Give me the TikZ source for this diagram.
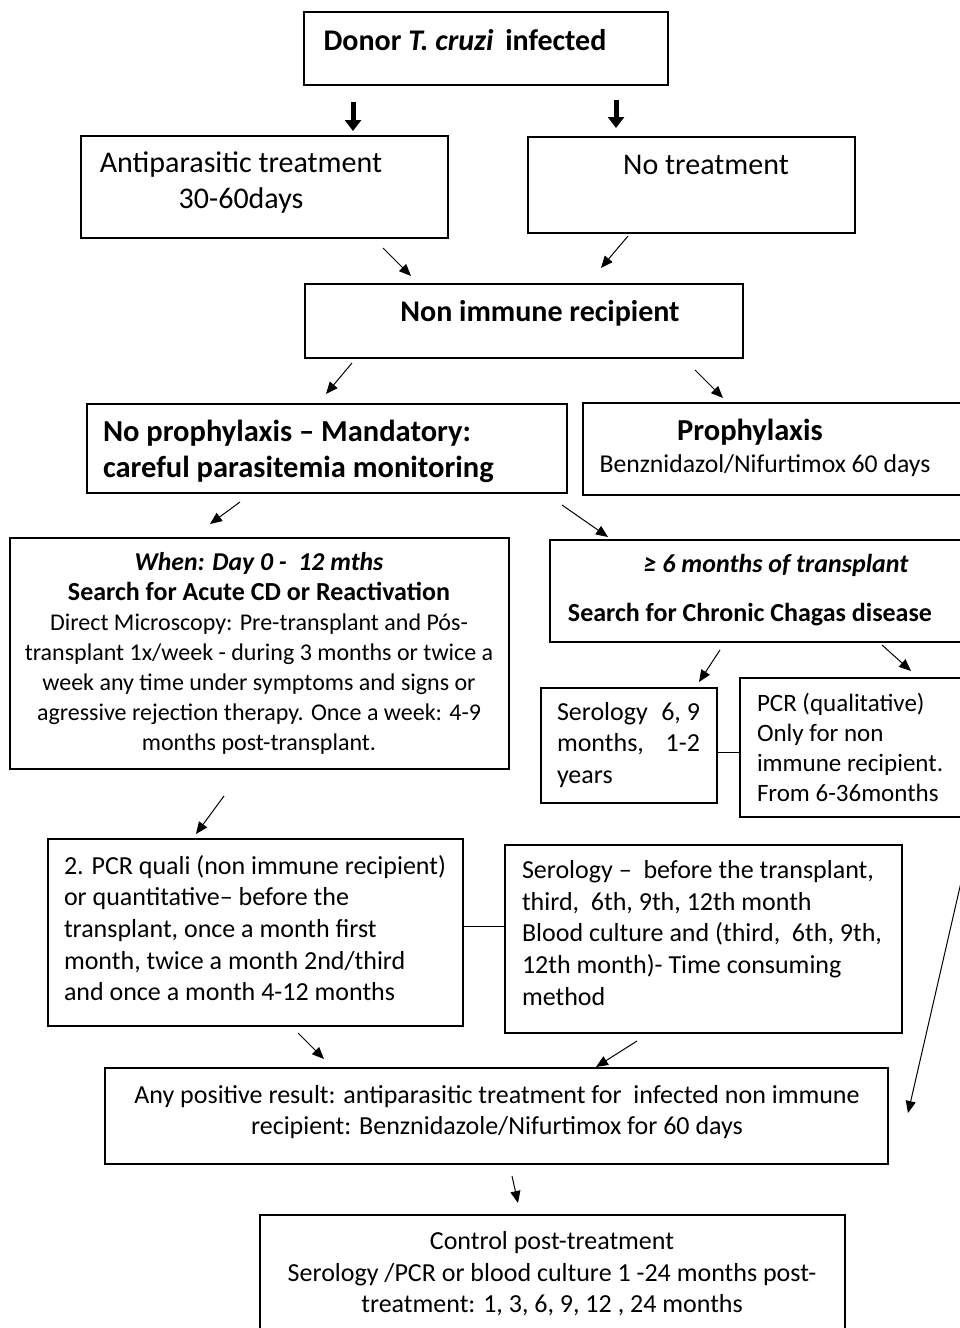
\documentclass[tikz,border=0pt]{standalone}
\usepackage{fontspec}
\setmainfont{Carlito}
\usetikzlibrary{arrows.meta}
\newcommand{\bx}[5]{\node[box, minimum width={(#4)-(#2)}, minimum height={(#5)-(#3)}] (#1) at ({((#2)+(#4))/2},{((#3)+(#5))/2}) {};}
\begin{document}
\begin{tikzpicture}[x=1pt,y=-1pt,
  box/.style={draw, line width=1.6pt, inner sep=0pt, outer sep=0pt},
  txt/.style={inner sep=0pt, outer sep=0pt},
  arr/.style={-{Triangle[length=12pt,width=10pt]}, line width=1pt},
  bigarr/.style={-{Triangle[length=11pt,width=16pt]}, line width=5pt},
  fA/.style={font=\fontsize{30}{36}\selectfont},
  fB/.style={font=\fontsize{26}{31.6}\selectfont},
  fC/.style={font=\fontsize{24}{30}\selectfont},
  fD/.style={font=\fontsize{25}{30}\selectfont}]
\useasboundingbox (0,0) rectangle (960,1328);
\fill[white] (0,0) rectangle (960,1328);
% boxes
\bx{donor}{304}{12}{668}{85}
\bx{anti}{81}{136}{448}{238}
\bx{notr}{528}{137}{855}{233}
\bx{nonimm}{305}{284}{743}{358}
\bx{noproph}{87}{404}{567}{493}
\bx{proph}{583}{403}{975}{495}
\bx{when}{10}{538}{509}{769}
\bx{chronic}{550}{540}{975}{642}
\bx{sero1}{541}{688}{717}{803}
\bx{pcrq}{740}{678}{975}{817}
\bx{pcr2}{48}{839}{463}{1026}
\bx{sero2}{505}{845}{902}{1033}
\bx{anypos}{105}{1068}{888}{1164}
\bx{control}{260}{1215}{845}{1340}
% texts
\node[txt, font=\bfseries\fontsize{30}{36}\selectfont] at (465,40) {Donor \textit{T. cruzi}\, infected};
\node[txt, fA, align=center] at (241,183) {Antiparasitic treatment\\30-60days};
\node[txt, fA] at (706,165) {No treatment};
\node[txt, font=\bfseries\fontsize{30}{36}\selectfont] at (540,313) {Non immune recipient};
\node[txt, anchor=west, align=left, font=\bfseries\fontsize{30.5}{36}\selectfont] at (103,451) {No prophylaxis -- Mandatory:\\careful parasitemia monitoring};
\node[txt, font=\bfseries\fontsize{30.5}{32}\selectfont] at (750,432) {Prophylaxis};
\node[txt, font=\fontsize{25.7}{29}\selectfont] at (765,466) {Benznidazol/Nifurtimox 60 days};
\node[txt, fC, align=center] at (259,653) {{\fontsize{25.7}{30}\selectfont\textbf{\textit{When: Day 0 -\ \ 12 mths}}}\\{\fontsize{26}{30}\selectfont\textbf{Search for Acute CD or Reactivation}}\\Direct Microscopy: Pre-transplant and Pós-\\transplant 1x/week - during 3 months or twice a\\week any time under symptoms and signs or\\agressive rejection therapy. Once a week: 4-9\\months post-transplant.};
\node[txt, font=\bfseries\itshape\fontsize{26}{30}\selectfont] at (776,565) {≥ 6 months of transplant};
\node[txt, font=\bfseries\fontsize{26}{30}\selectfont] at (750,615) {Search for Chronic Chagas disease};
\node[txt, fB, anchor=west, align=left] at (557,745) {\hbox to 143pt{Serology\hfill 6,\ 9}\\\hbox to 143pt{months,\hfill 1-2}\\years};
\node[txt, fD, anchor=west, align=left] at (757,747) {PCR (qualitative)\\Only for non\\immune recipient.\\From 6-36months};
\node[txt, fB, anchor=west, align=left] at (64,928) {2. PCR quali (non immune recipient)\\or quantitative-- before the\\transplant, once a month first\\month, twice a month 2nd/third\\and once a month 4-12 months};
\node[txt, fB, anchor=west, align=left] at (522,933) {Serology --\ \ before the transplant,\\third,\ \ 6th, 9th, 12th month\\Blood culture and (third,\ \ 6th, 9th,\\12th month)- Time consuming\\method};
\node[txt, fB, align=center] at (497,1112) {Any positive result: antiparasitic treatment for\ \ infected non immune\\recipient: Benznidazole/Nifurtimox for 60 days};
\node[txt, fB, align=center] at (552,1274) {Control post-treatment\\Serology /PCR or blood culture 1 -24 months post-\\treatment: 1, 3, 6, 9, 12 , 24 months};
% side links
\draw[line width=0.8pt] (sero1.east |- 0,752) -- (pcrq.west |- 0,752);
\draw[line width=0.8pt] (pcr2.east |- 0,926) -- (sero2.west |- 0,926);
% arrow endpoints
\coordinate (a1s) at (353,102); \coordinate (a1e) at (353,131);
\coordinate (a2s) at (616,100); \coordinate (a2e) at (616,128);
\coordinate (a3s) at (383,248); \coordinate (a3e) at (411,276);
\coordinate (a4s) at (628,236); \coordinate (a4e) at (601,268);
\coordinate (a5s) at (352,363); \coordinate (a5e) at (326,394);
\coordinate (a6s) at (695,370); \coordinate (a6e) at (723,398);
\coordinate (a7s) at (240,502); \coordinate (a7e) at (210,524);
\coordinate (a8s) at (562,505); \coordinate (a8e) at (608,537);
\coordinate (a9s) at (720,650); \coordinate (a9e) at (699,682);
\coordinate (a10s) at (882,645); \coordinate (a10e) at (911,671);
\coordinate (a11s) at (224,796); \coordinate (a11e) at (196,834);
\coordinate (a12s) at (298,1033); \coordinate (a12e) at (324,1059);
\coordinate (a13s) at (637,1041); \coordinate (a13e) at (596,1067);
\coordinate (a14s) at (512,1176); \coordinate (a14e) at (518,1203);
\coordinate (a15s) at (962,878); \coordinate (a15e) at (908,1113);
\draw[bigarr] (a1s) -- (a1e);
\draw[bigarr] (a2s) -- (a2e);
\foreach \i in {3,...,15} \draw[arr] (a\i s) -- (a\i e);
\end{tikzpicture}
\end{document}
